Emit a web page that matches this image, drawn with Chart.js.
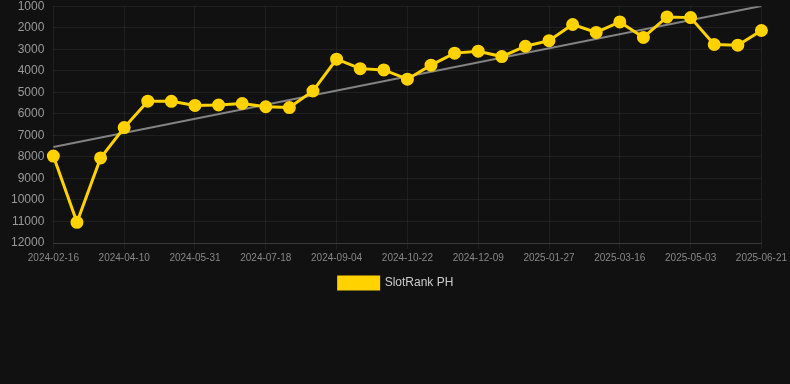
<!DOCTYPE html>
<html>
<head>
<meta charset="utf-8">
<script src="https://cdn.jsdelivr.net/npm/chart.js@4"></script>
<style>
html,body{margin:0;padding:0;background:#111111;overflow:hidden;}
#wrap{position:relative;width:790px;height:309px;margin-top:-10px;}
</style>
</head>
<body>
<div id="wrap"><canvas id="c"></canvas></div>
<script>
const categories = ['2024-02-16','2024-03-04','2024-03-22','2024-04-10','2024-04-27','2024-05-14','2024-05-31','2024-06-16','2024-07-02','2024-07-18','2024-08-03','2024-08-19','2024-09-04','2024-09-20','2024-10-06','2024-10-22','2024-11-07','2024-11-23','2024-12-09','2024-12-25','2025-01-11','2025-01-27','2025-02-12','2025-02-28','2025-03-16','2025-04-01','2025-04-17','2025-05-03','2025-05-19','2025-06-04','2025-06-21'];
const rankValues = [7960,11040,8050,6640,5410,5420,5610,5590,5520,5670,5710,4940,3460,3900,3960,4390,3740,3180,3090,3340,2860,2600,1850,2220,1730,2450,1500,1530,2780,2810,2130];
const trendStart = 7540;
const trendEnd = 990;
const yTicks = [1000,2000,3000,4000,5000,6000,7000,8000,9000,10000,11000,12000];

const trendData = [
  {x: categories[0], y: trendStart},
  {x: categories[categories.length-1], y: trendEnd}
];

new Chart(document.getElementById('c'), {
  type: 'line',
  data: {
    labels: categories,
    datasets: [
      {
        label: 'SlotRank PH',
        data: rankValues,
        borderColor: '#FFD200',
        backgroundColor: '#FFD200',
        borderWidth: 3,
        pointRadius: 5,
        pointHoverRadius: 5,
        pointBackgroundColor: '#FFD200',
        pointBorderColor: '#FFD200',
        tension: 0
      },
      {
        label: 'trend',
        data: trendData,
        borderColor: 'rgba(150,150,150,0.85)',
        borderWidth: 2,
        pointRadius: 0,
        fill: false
      }
    ]
  },
  options: {
    responsive: true,
    maintainAspectRatio: false,
    animation: false,
    layout: {padding: {top: 0, left: 2, right: 0, bottom: 0}},
    plugins: {
      legend: {
        position: 'bottom',
        labels: {
          color: '#cccccc',
          font: {size: 12, family: 'Arial, "Liberation Sans", sans-serif'},
          boxWidth: 40,
          boxHeight: 12,
          filter: (item) => item.text !== 'trend'
        }
      },
      tooltip: {enabled: false}
    },
    scales: {
      x: {
        ticks: {
          color: '#888888',
          font: {size: 10, family: 'Arial, "Liberation Sans", sans-serif'},
          autoSkip: false,
          maxRotation: 0,
          minRotation: 0,
          callback: function(value, index) {
            return index % 3 === 0 ? this.getLabelForValue(value) : null;
          }
        },
        grid: {color: 'rgba(255,255,255,0.06)', tickLength: 6},
        border: {color: 'rgba(255,255,255,0.12)'}
      },
      y: {
        reverse: true,
        min: 1000,
        max: 12000,
        afterBuildTicks: (axis) => { axis.ticks = yTicks.map(v => ({value: v})); },
        ticks: {
          color: '#999999',
          font: {size: 12, family: 'Arial, "Liberation Sans", sans-serif'},
          padding: 9,
          callback: (v) => String(v)
        },
        grid: {color: 'rgba(255,255,255,0.06)', drawTicks: false},
        border: {display: false}
      }
    }
  }
});
</script>
</body>
</html>
